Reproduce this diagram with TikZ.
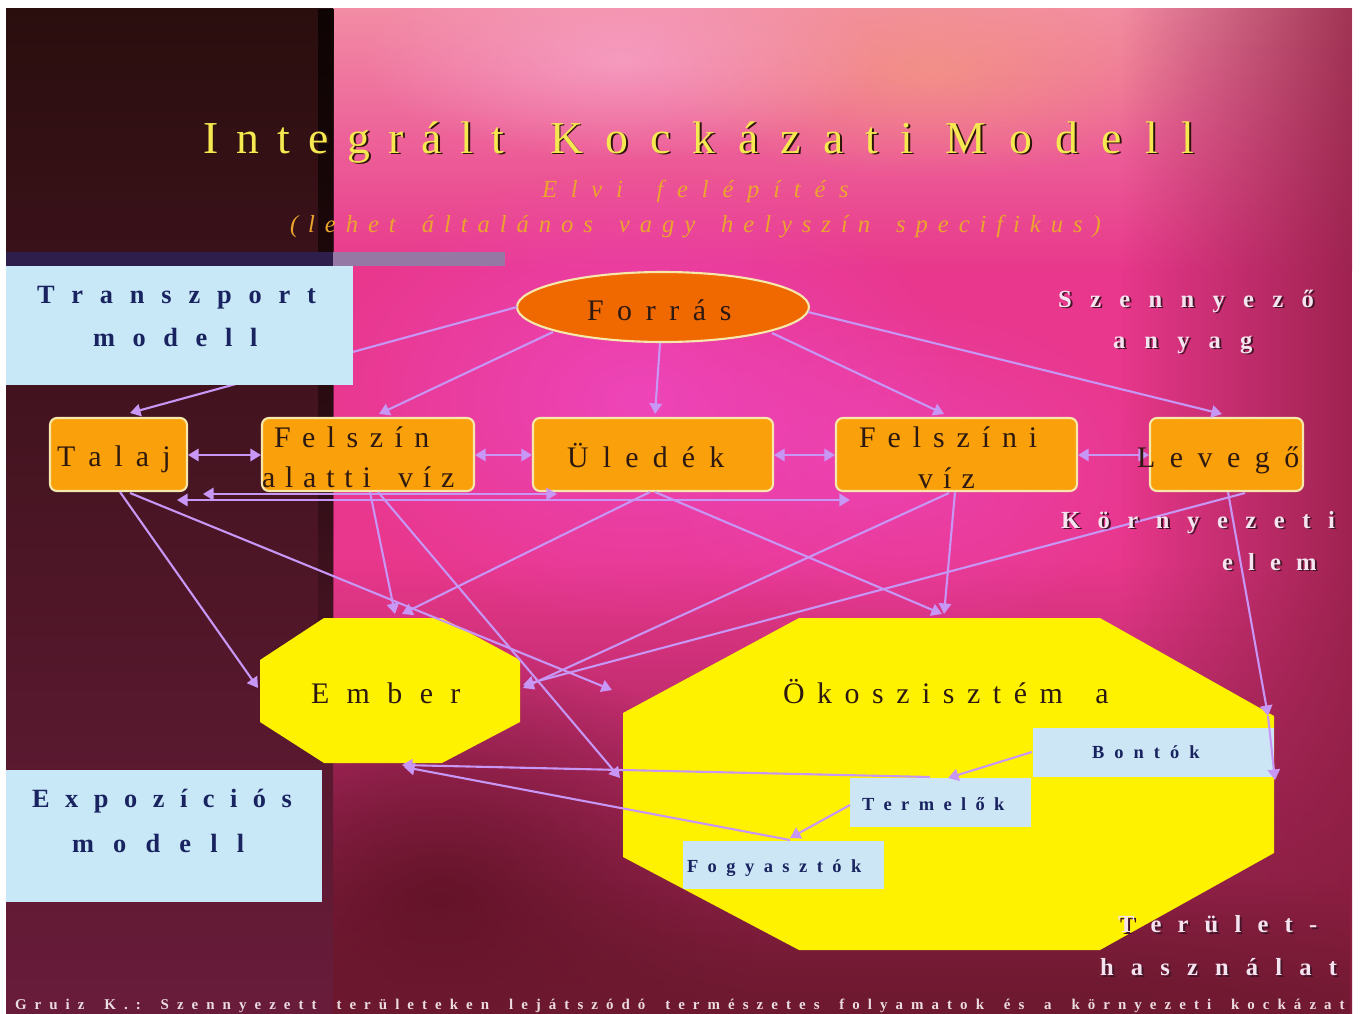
\documentclass[tikz,border=0pt]{standalone}
\usepackage{fontspec}
\setmainfont{Liberation Serif}
\usetikzlibrary{arrows.meta,fadings,fit,shapes.geometric}

\definecolor{lav}{RGB}{200,150,245}
\definecolor{cream}{RGB}{245,232,170}
\definecolor{orangebox}{RGB}{250,160,10}
\definecolor{forrasc}{RGB}{240,105,0}
\definecolor{ltblue}{RGB}{200,232,248}
\definecolor{smblue}{RGB}{204,230,246}
\definecolor{navy}{RGB}{25,35,95}
\definecolor{titley}{RGB}{245,232,80}
\definecolor{titlesh}{RGB}{45,20,10}
\definecolor{gold}{RGB}{235,165,45}
\definecolor{lblw}{RGB}{245,228,240}
\definecolor{lblsh}{RGB}{70,20,40}
\definecolor{boxtxt}{RGB}{45,25,15}
\definecolor{pinktop}{RGB}{242,140,165}
\definecolor{hotpink}{RGB}{232,55,140}
\definecolor{maroonbot}{RGB}{110,25,48}
\definecolor{blobmag}{RGB}{240,75,205}
\definecolor{peach}{RGB}{245,160,120}
\definecolor{lpink}{RGB}{250,180,215}
\definecolor{darkred}{RGB}{140,30,65}
\definecolor{deepmar}{RGB}{85,15,30}
\definecolor{lefttop}{RGB}{42,14,14}
\definecolor{leftmid}{RGB}{68,18,32}
\definecolor{leftbot}{RGB}{105,28,58}
\definecolor{edgeblk}{RGB}{15,4,4}
\definecolor{footc}{RGB}{235,220,225}
\definecolor{bardark}{RGB}{45,30,75}
\definecolor{barlight}{RGB}{150,120,165}

\tikzfading[name=fuzzy, inner color=transparent!0, outer color=transparent!100]
\tikzfading[name=fadeS, top color=transparent!0, bottom color=transparent!100]
\tikzfading[name=fadeN, top color=transparent!100, bottom color=transparent!0]
\tikzfading[name=fadeE, left color=transparent!100, right color=transparent!0]

\newlength\pxu \setlength\pxu{0.5669pt}
\def\spl#1#2\relax{#1\ifx\relax#2\relax\else\hfill\spl#2\relax\fi}
\newcommand\spx[2]{\makebox[#1\pxu]{\spl#2\relax}}
% text with a drop shadow, in one box: #1 shadow colour, #2 offset in px, #3 text
\newcommand\shd[3]{\makebox[0pt][l]{\raisebox{-#2\pxu}[0pt][0pt]{\hspace*{#2\pxu}\textcolor{#1}{#3}}}#3}

\newcommand\titlef{\fontsize{26pt}{30pt}\selectfont}
\newcommand\subf{\fontsize{14pt}{16pt}\selectfont\itshape}
\newcommand\modf{\fontsize{15pt}{18pt}\selectfont\bfseries}
\newcommand\lblf{\fontsize{14pt}{17pt}\selectfont\bfseries}
\newcommand\boxf{\fontsize{17pt}{20pt}\selectfont}
\newcommand\smf{\fontsize{10.5pt}{12pt}\selectfont\bfseries}
\newcommand\footf{\fontsize{8.5pt}{10pt}\selectfont\bfseries}

\begin{document}
\begin{tikzpicture}[x=0.02cm,y=-0.02cm,
  conn/.style={draw=lav,line width=1.2pt,-{Triangle[width=7pt,length=6pt]}},
  conntwo/.style={draw=lav,line width=1.2pt,{Triangle[width=7pt,length=6pt]}-{Triangle[width=7pt,length=6pt]}},
  obox/.style={draw=cream,line width=1.2pt,fill=orangebox,rounded corners=4pt,inner sep=0pt},
  bbox/.style={fill=ltblue,inner sep=0pt},
  sbox/.style={fill=smblue,inner sep=0pt},
  hold/.style={inner sep=0pt},
  txt/.style={anchor=base west,inner sep=0pt,outer sep=0pt}]

\useasboundingbox (0,0) rectangle (1363,1014);
\fill[white] (0,0) rectangle (1363,1014);

% ---------- background ----------
\begin{scope}
\clip (6,8) rectangle (1352,1014);
\fill[hotpink] (300,8) rectangle (1352,1014);
\shade[top color=pinktop, bottom color=hotpink] (300,8) rectangle (1352,270);
\shade[top color=hotpink, bottom color=maroonbot] (300,560) rectangle (1352,1014);
\fill[blobmag, path fading=fuzzy, fill opacity=0.7] (640,400) ellipse (330 and 230);
\fill[blobmag, path fading=fuzzy, fill opacity=0.5] (900,470) ellipse (260 and 170);
\fill[peach, path fading=fuzzy, fill opacity=0.6] (930,70) ellipse (280 and 110);
\fill[lpink, path fading=fuzzy, fill opacity=0.55] (620,60) ellipse (260 and 100);
\fill[darkred, path fading=fadeE, fill opacity=0.8] (1120,8) rectangle (1352,1014);
\fill[deepmar, path fading=fuzzy, fill opacity=0.75] (440,900) ellipse (320 and 260);
\fill[maroonbot, path fading=fadeN, fill opacity=0.85] (300,880) rectangle (1352,1014);
\shade[top color=lefttop, middle color=leftmid, bottom color=leftbot] (6,8) rectangle (333,1014);
\fill[edgeblk, path fading=fadeS] (318,8) rectangle (334,760);
\end{scope}

% hatched bar
\fill[bardark] (6,252) rectangle (333,266);
\fill[barlight] (333,252) rectangle (505,266);

% ---------- main shapes ----------
\fill[yellow] (324,618) -- (442,618) -- (520,660) -- (520,722) -- (442,763) -- (324,763) -- (260,722) -- (260,660) -- cycle;
\node[hold,fit={(260,618)(520,763)}] (ember) {};
\fill[yellow] (799,618) -- (1100,618) -- (1274,716) -- (1274,853) -- (1100,950) -- (799,950) -- (623,857) -- (623,713) -- cycle;
\node[hold,fit={(623,618)(1274,950)}] (oko) {};

\node[draw=cream,line width=1.2pt,fill=forrasc,ellipse,inner sep=0pt,minimum width=5.84cm,minimum height=1.4cm] (forras) at (663,307) {};

\node[obox,fit={(50,418)(187,491)}] (talaj) {};
\node[obox,fit={(262,418)(474,491)}] (fav) {};
\node[obox,fit={(533,418)(773,491)}] (uledek) {};
\node[obox,fit={(836,418)(1077,491)}] (fviz) {};
\node[obox,fit={(1150,418)(1303,491)}] (levego) {};

\node[sbox,fit={(1033,728)(1274,777)}] (bontok) {};
\node[sbox,fit={(850,778)(1031,827)}] (termelok) {};
\node[sbox,fit={(683,841)(884,889)}] (fogyasztok) {};

% ---------- connectors ----------
\coordinate (a1) at (517,307); \coordinate (a2) at (130,413);
\coordinate (b1) at (553,332); \coordinate (b2) at (379,414);
\coordinate (c1) at (660,343); \coordinate (c2) at (655,414);
\coordinate (d1) at (772,333); \coordinate (d2) at (944,414);
\coordinate (e1) at (808,312); \coordinate (e2) at (1222,414);
\coordinate (f1) at (188,455); \coordinate (f2) at (261,455);
\coordinate (g1) at (475,455); \coordinate (g2) at (532,455);
\coordinate (h1) at (774,455); \coordinate (h2) at (835,455);
\coordinate (i1) at (1078,455); \coordinate (i2) at (1149,455);
\coordinate (j1) at (203,494); \coordinate (j2) at (557,494);
\coordinate (k1) at (177,500); \coordinate (k2) at (850,500);
\coordinate (l1) at (120,492); \coordinate (l2) at (258,688);
\coordinate (m1) at (130,493); \coordinate (m2) at (612,690);
\coordinate (n1) at (370,492); \coordinate (n2) at (395,614);
\coordinate (o1) at (378,492); \coordinate (o2) at (620,778);
\coordinate (p1) at (650,492); \coordinate (p2) at (402,614);
\coordinate (q1) at (655,492); \coordinate (q2) at (942,614);
\coordinate (r1) at (955,492); \coordinate (r2) at (944,614);
\coordinate (s1) at (949,493); \coordinate (s2) at (523,688);
\coordinate (t1) at (1245,493); \coordinate (t2) at (523,685);
\coordinate (u1) at (1228,492); \coordinate (u2) at (1268,716); \coordinate (u3) at (1275,780);
\coordinate (v1) at (1032,752); \coordinate (v2) at (948,778);
\coordinate (w1) at (850,805); \coordinate (w2) at (790,838);
\coordinate (x1) at (930,777); \coordinate (x2) at (402,765);
\coordinate (y1) at (790,840); \coordinate (y2) at (404,767);

\draw[conn] (a1) -- (a2);
\draw[conn] (b1) -- (b2);
\draw[conn] (c1) -- (c2);
\draw[conn] (d1) -- (d2);
\draw[conn] (e1) -- (e2);
\draw[conntwo] (f1) -- (f2);
\draw[conntwo] (g1) -- (g2);
\draw[conntwo] (h1) -- (h2);
\draw[conntwo] (i1) -- (i2);
\draw[conntwo] (j1) -- (j2);
\draw[conntwo] (k1) -- (k2);
\draw[conn] (l1) -- (l2);
\draw[conn] (m1) -- (m2);
\draw[conn] (n1) -- (n2);
\draw[conn] (o1) -- (o2);
\draw[conn] (p1) -- (p2);
\draw[conn] (q1) -- (q2);
\draw[conn] (r1) -- (r2);
\draw[conn] (s1) -- (s2);
\draw[conn] (t1) -- (t2);
\draw[conn] (u1) -- (u2);
\draw[conn] (u2) -- (u3);
\draw[conn] (v1) -- (v2);
\draw[conn] (w1) -- (w2);
\draw[conn] (x1) -- (x2);
\draw[conn] (y1) -- (y2);

% side boxes (over connector A)
\node[bbox,fit={(6,266)(353,385)}] (transp) {};
\node[bbox,fit={(6,770)(322,902)}] (expoz) {};

% ---------- texts ----------
\node[txt,font=\titlef,text=titley] (ti1) at (203,153) {\shd{titlesh}{2}{\spx{302}{Integrált}}};
\node[txt,font=\titlef,text=titley] (ti2) at (550,153) {\shd{titlesh}{2}{\spx{365}{Kockázati}}};
\node[txt,font=\titlef,text=titley] (ti3) at (945,153) {\shd{titlesh}{2}{\spx{250}{Modell}}};

\node[txt,font=\subf,text=gold] (sub1) at (542,197) {\spx{308}{Elvi~felépítés}};
\node[txt,font=\subf,text=gold] (sub2) at (290,232) {\spx{814}{(lehet~általános~vagy~helyszín~specifikus)}};

\node[txt,font=\modf,text=navy] (tm1) at (37,303) {\spx{280}{Transzport}};
\node[txt,font=\modf,text=navy] (tm2) at (93,346) {\spx{165}{modell}};
\node[txt,font=\modf,text=navy] (em1) at (32,807) {\spx{261}{Expozíciós}};
\node[txt,font=\modf,text=navy] (em2) at (72,852) {\spx{173}{modell}};

\node[txt,font=\lblf,text=lblw] (sz1) at (1058,307) {\shd{lblsh}{2}{\spx{257}{Szennyező}}};
\node[txt,font=\lblf,text=lblw] (sz2) at (1113,348) {\shd{lblsh}{2}{\spx{140}{anyag}}};
\node[txt,font=\lblf,text=lblw] (ko1) at (1061,528) {\shd{lblsh}{2}{\spx{275}{Környezeti}}};
\node[txt,font=\lblf,text=lblw] (ko2) at (1222,570) {\shd{lblsh}{2}{\spx{95}{elem}}};
\node[txt,font=\lblf,text=lblw] (te1) at (1118,932) {\shd{lblsh}{2}{\spx{200}{Terület-}}};
\node[txt,font=\lblf,text=lblw] (te2) at (1100,975) {\shd{lblsh}{2}{\spx{238}{használat}}};

\node[txt,font=\boxf,text=boxtxt] (lforras) at (587,320) {\spx{145}{Forrás}};
\node[txt,font=\boxf,text=boxtxt] (ltalaj) at (57,466) {\spx{114}{Talaj}};
\node[txt,font=\boxf,text=boxtxt] (lfav1) at (274,447) {\spx{156}{Felszín}};
\node[txt,font=\boxf,text=boxtxt] (lfav2) at (262,487) {\spx{193}{alatti~víz}};
\node[txt,font=\boxf,text=boxtxt] (lul) at (567,467) {\spx{158}{Üledék}};
\node[txt,font=\boxf,text=boxtxt] (lfv1) at (859,447) {\spx{179}{Felszíni}};
\node[txt,font=\boxf,text=boxtxt] (lfv2) at (918,488) {\spx{57}{víz}};
\node[txt,font=\boxf,text=boxtxt] (llev) at (1137,467) {\spx{163}{Levegő}};
\node[txt,font=\boxf,text=boxtxt] (lember) at (311,703) {\spx{150}{Ember}};
\node[txt,font=\boxf,text=boxtxt] (loko) at (783,703) {\spx{327}{Ökoszisztém~a}};

\node[txt,font=\smf,text=navy] (lbon) at (1092,758) {\spx{108}{Bontók}};
\node[txt,font=\smf,text=navy] (lterm) at (862,810) {\spx{143}{Termelők}};
\node[txt,font=\smf,text=navy] (lfogy) at (687,872) {\spx{175}{Fogyasztók}};

\node[txt,font=\footf,text=footc] (foot) at (15,1009) {\spx{1335}{Gruiz~K.:~Szennyezett~területeken~lejátszódó~természetes~folyamatok~és~a~környezeti~kockázat}};
\end{tikzpicture}
\end{document}
